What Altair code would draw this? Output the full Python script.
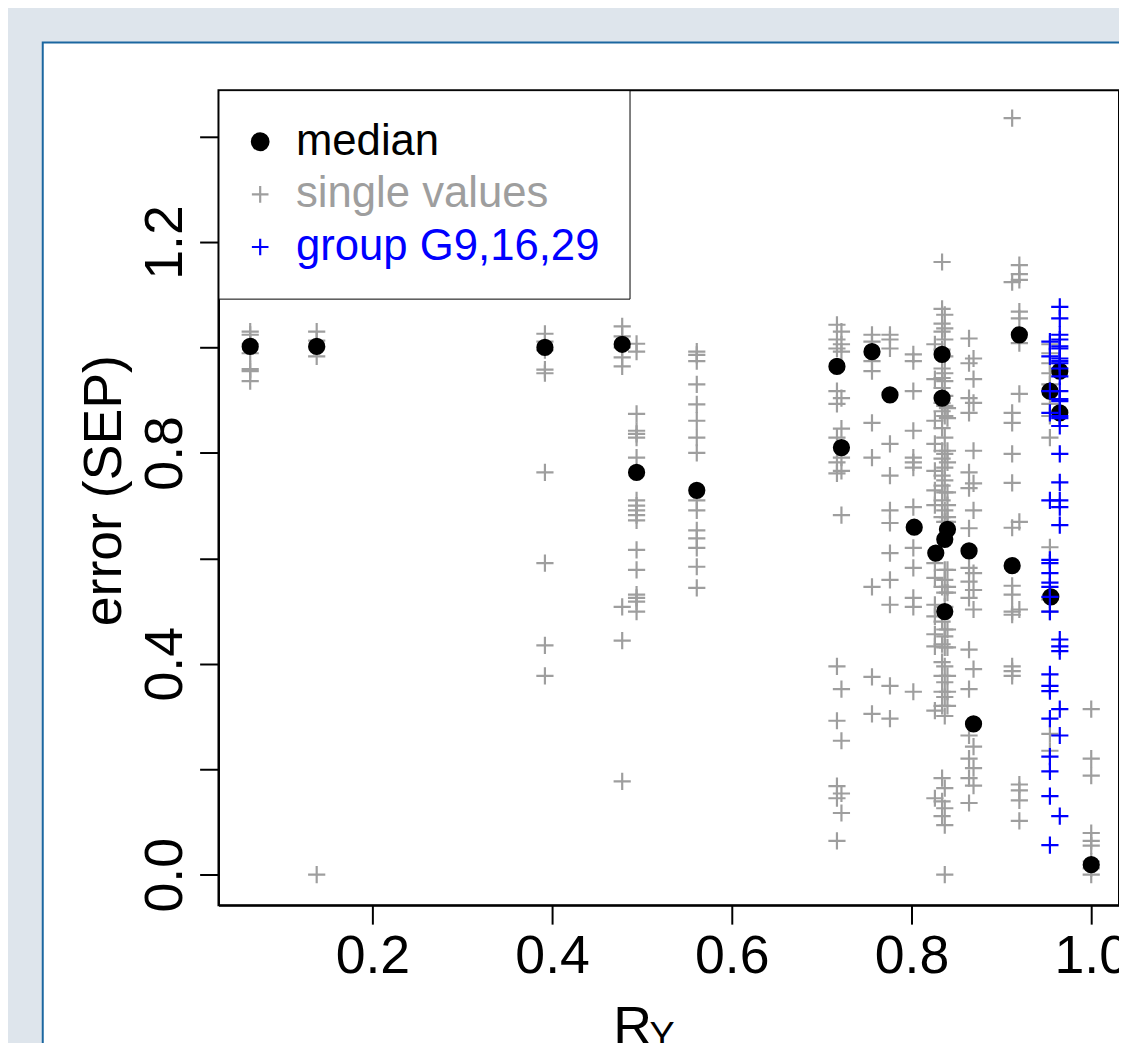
import altair as alt
import pandas as pd

# ---------------- data ----------------
median_x = [0.064, 0.138, 0.392, 0.478, 0.494, 0.561, 0.717, 0.722, 0.756, 0.776,
            0.803, 0.827, 0.834, 0.834, 0.840, 0.837, 0.837, 0.864, 0.869, 0.912,
            0.920, 0.954, 0.955, 0.965, 0.965, 1.000]
median_y = [1.002, 1.002, 1.000, 1.006, 0.763, 0.729, 0.964, 0.810, 0.992, 0.910,
            0.659, 0.610, 0.987, 0.904, 0.655, 0.636, 0.499, 0.614, 0.286, 0.586,
            1.024, 0.917, 0.527, 0.955, 0.876, 0.019]

single_x = [0.064, 0.138, 0.392, 0.478, 0.494, 0.561, 0.717, 0.722, 0.756, 0.776,
            0.802, 0.826, 0.834, 0.837, 0.840, 0.864, 0.869, 0.912, 0.920, 0.954, 1.000]
single_y = [
    [1.03, 1.024, 1.006, 0.989, 0.959, 0.955, 0.936],
    [1.03, 1.013, 1.0, 0.983, 0.0],
    [1.026, 1.011, 0.995, 0.958, 0.951, 0.763, 0.591, 0.435, 0.377],
    [1.04, 1.021, 1.0, 0.981, 0.964, 0.508, 0.444, 0.177],
    [1.007, 0.992, 0.874, 0.842, 0.836, 0.829, 0.791, 0.71, 0.70, 0.691, 0.682, 0.672,
     0.616, 0.578, 0.531, 0.525, 0.518, 0.499],
    [0.992, 0.986, 0.974, 0.93, 0.892, 0.861, 0.829, 0.80, 0.71, 0.691, 0.653, 0.638,
     0.62, 0.584, 0.544],
    [1.043, 1.015, 0.998, 0.917, 0.893, 0.829, 0.782, 0.761, 0.395, 0.292, 0.168, 0.145, 0.064],
    [1.030, 1.006, 0.992, 0.904, 0.846, 0.791, 0.766, 0.682, 0.352, 0.254, 0.154, 0.117],
    [1.024, 1.011, 0.974, 0.955, 0.857, 0.791, 0.546, 0.375, 0.305],
    [1.024, 1.015, 0.998, 0.817, 0.757, 0.691, 0.667, 0.610, 0.559, 0.512, 0.358, 0.296],
    [0.987, 0.974, 0.917, 0.842, 0.791, 0.782, 0.772, 0.697, 0.620, 0.582, 0.525, 0.508, 0.347],
    [1.006, 0.940, 0.861, 0.817, 0.766, 0.729, 0.701, 0.591, 0.563, 0.512, 0.490, 0.456,
     0.433, 0.311, 0.145],
    [1.162, 1.073, 1.045, 1.030, 0.996, 0.960, 0.942, 0.923, 0.895, 0.879, 0.847, 0.804,
     0.789, 0.757, 0.738, 0.710, 0.678, 0.546, 0.480, 0.437, 0.403, 0.377, 0.347, 0.320,
     0.183, 0.139, 0.111],
    [1.062, 1.036, 1.015, 0.983, 0.951, 0.936, 0.908, 0.889, 0.870, 0.829, 0.798, 0.772,
     0.748, 0.725, 0.691, 0.669, 0.578, 0.559, 0.535, 0.508, 0.465, 0.452, 0.431, 0.395,
     0.365, 0.337, 0.301, 0.164, 0.126, 0.094, 0.0],
    [0.885, 0.866, 0.804, 0.782, 0.725, 0.701, 0.678, 0.669, 0.578, 0.546, 0.535, 0.465,
     0.431, 0.377, 0.347, 0.320],
    [1.017, 0.970, 0.904, 0.876, 0.763, 0.733, 0.657, 0.582, 0.556, 0.525, 0.427, 0.352,
     0.264, 0.220, 0.183, 0.136],
    [0.979, 0.940, 0.895, 0.804, 0.742, 0.691, 0.572, 0.540, 0.503, 0.390, 0.243, 0.202, 0.169],
    [1.435, 1.124, 0.876, 0.857, 0.798, 0.743, 0.658, 0.548, 0.531, 0.499, 0.493, 0.395,
     0.386, 0.377],
    [1.156, 1.139, 1.128, 1.068, 1.055, 1.008, 0.912, 0.669, 0.503, 0.171, 0.160, 0.141, 0.102],
    [1.006, 0.989, 0.970, 0.951, 0.930, 0.893, 0.870, 0.829, 0.621, 0.522, 0.499, 0.267, 0.235],
    [0.314, 0.220, 0.188, 0.079, 0.064, 0.055, 0.025, 0.012, 0.0],
]

group_x = [0.954, 0.965]
group_y = [
    [1.011, 0.983, 0.917, 0.876, 0.710, 0.597, 0.591, 0.572, 0.554, 0.546, 0.527, 0.499,
     0.380, 0.358, 0.348, 0.296, 0.224, 0.196, 0.149, 0.056],
    [1.077, 1.055, 1.024, 1.015, 1.002, 0.998, 0.979, 0.974, 0.970, 0.960, 0.945, 0.917,
     0.902, 0.898, 0.870, 0.866, 0.851, 0.798, 0.744, 0.710, 0.697, 0.663, 0.446, 0.433,
     0.424, 0.314, 0.264, 0.111],
]

series_names = ["median", "single values", "group G9,16,29"]
x_ticks = [0.2, 0.4, 0.6, 0.8, 1.0]
y_ticks = [0.0, 0.2, 0.4, 0.6, 0.8, 1.0, 1.2, 1.4]

# ---------------- styling ----------------
FONT = "Liberation Sans"
PLUS = "M-1,0L1,0M0,-1L0,1"
colors = ["#000000", "#9e9e9e", "#0000ff"]
shapes = ["circle", PLUS, PLUS]
sizes = [230, 300, 300]
size_of = dict(zip(series_names, sizes))
FRAME_BG = "#dee5ec"
FRAME_LINE = "#1b67a0"

# ---------------- table ----------------
rows = []
for cx, ys in zip(single_x, single_y):
    for v in ys:
        rows.append({"x": cx, "y": v, "series": series_names[1]})
for cx, v in zip(median_x, median_y):
    rows.append({"x": cx, "y": v, "series": series_names[0]})
for cx, ys in zip(group_x, group_y):
    for v in ys:
        rows.append({"x": cx, "y": v, "series": series_names[2]})
df = pd.DataFrame(rows)
df["sz"] = df["series"].map(size_of)

W, H = 907, 821
x_dom = [0.0287, 1.0309]
y_dom = [-0.058, 1.488]
xs = alt.Scale(domain=x_dom, nice=False, zero=False)
ys = alt.Scale(domain=y_dom, nice=False, zero=False)

label_color = alt.ExprRef(
    "datum.label == 'median' ? '#000000' : (datum.label == 'single values' ? '#9e9e9e' : '#0000ff')"
)
leg = alt.Legend(
    title=None, orient="none", legendX=0, legendY=0,
    labelFontSize=44, labelFont=FONT, labelColor=label_color, labelLimit=500,
    symbolSize=280, symbolStrokeWidth=2.2, symbolOffset=-10, labelOffset=14,
    padding=30, rowPadding=9, strokeColor="black", fillColor="white",
    zindex=2,
)

one = pd.DataFrame({"k": [0]})
strip_top = alt.Chart(one).mark_rect(fill=FRAME_BG, clip=False).encode(
    x=alt.value(-230), y=alt.value(-100), x2=alt.value(W + 100), y2=alt.value(-48))
strip_left = alt.Chart(one).mark_rect(fill=FRAME_BG, clip=False).encode(
    x=alt.value(-230), y=alt.value(-100), x2=alt.value(-177), y2=alt.value(H + 300))
frame = alt.Chart(one).mark_rect(
    fill="white", fillOpacity=0, stroke=FRAME_LINE, strokeWidth=2, clip=False
).encode(x=alt.value(-177), y=alt.value(-48), x2=alt.value(W + 100), y2=alt.value(H + 300))

pts = alt.Chart(df).mark_point(filled=True, opacity=1, strokeWidth=2.2, clip=True).encode(
    x=alt.X("x:Q", scale=xs, axis=alt.Axis(
        orient="bottom",
        values=x_ticks, format=".1f", labelFontSize=54, labelFont=FONT, labelColor="black",
        tickSize=19, tickWidth=2, tickColor="black", domainWidth=2, domainColor="black",
        labelPadding=6, labelFlush=False, labelOverlap=False, grid=False,
        title="R", titleFontSize=54, titleFont=FONT, titleFontWeight="normal",
        titleColor="black", titleAlign="left", titleBaseline="alphabetic",
        titleX=397, titleY=139)),
    y=alt.Y("y:Q", scale=ys, axis=alt.Axis(
        orient="left",
        values=y_ticks,
        labelExpr="(round(datum.value*10) % 4 == 0) ? format(datum.value, '.1f') : ''",
        labelAngle=270, labelAlign="center", labelBaseline="alphabetic", labelPadding=18,
        labelFontSize=54, labelFont=FONT, labelColor="black", labelOverlap=False,
        tickSize=19, tickWidth=2, tickColor="black", domainWidth=2, domainColor="black",
        grid=False, title="error (SEP)", titleFontSize=54, titleFont=FONT,
        titleFontWeight="normal", titleColor="black", titleAngle=270, titleAlign="center",
        titleBaseline="alphabetic", titleX=-99, titleY=403)),
    fill=alt.Fill("series:N", scale=alt.Scale(domain=series_names, range=colors), legend=leg),
    stroke=alt.Stroke("series:N", scale=alt.Scale(domain=series_names, range=colors), legend=leg),
    shape=alt.Shape("series:N", scale=alt.Scale(domain=series_names, range=shapes), legend=leg),
    size=alt.Size("sz:Q", scale=None),
)

sub = alt.Chart(pd.DataFrame({"t": ["Y"]})).mark_text(
    fontSize=38, font=FONT, align="left", baseline="alphabetic", color="black", clip=False
).encode(x=alt.value(434), y=alt.value(965), text="t:N")

chart = alt.layer(strip_top, strip_left, frame, pts, sub).properties(
    width=W, height=H,
    padding={"left": 212, "top": 79, "right": 0, "bottom": 135},
    autosize=alt.AutoSizeParams(type="none"),
    background="white",
).configure(font=FONT).configure_view(stroke="black", strokeWidth=2)

chart.save("out.html", embed_options={"renderer": "svg", "actions": False})
